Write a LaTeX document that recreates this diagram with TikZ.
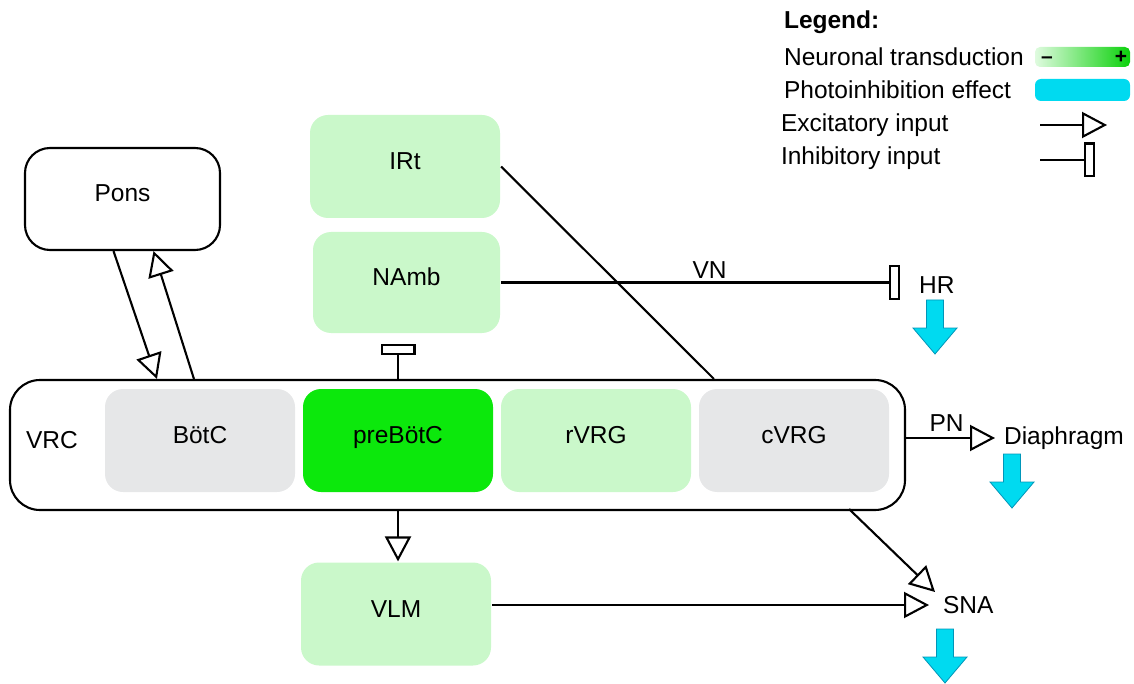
\documentclass[tikz,border=0pt]{standalone}
\usepackage{fontspec}
\setmainfont{Liberation Sans}
\usetikzlibrary{arrows.meta}
\definecolor{lightgreen}{RGB}{202,248,202}
\definecolor{brightgreen}{RGB}{12,232,12}
\definecolor{boxgrey}{RGB}{230,231,232}
\definecolor{photocyan}{RGB}{0,218,240}
\definecolor{photoedge}{RGB}{0,150,185}

\begin{document}
\begin{tikzpicture}[x=1pt, y=-1pt, line width=2.1pt,
    font=\fontsize{24.5}{29}\selectfont,
    box/.style={rounded corners=18pt, minimum width=190pt, minimum height=103pt, inner sep=0pt,
                text height=18pt, text depth=12pt},
    light/.style={box, fill=lightgreen},
    bright/.style={box, fill=brightgreen},
    grey/.style={box, fill=boxgrey},
    tag/.style={inner sep=0pt},
    excite/.style={-{Triangle[open, length=25pt, width=26pt]}},
    inhibit/.style={-{Rectangle[open, length=11pt, width=35pt]}},
    photo/.style={fill=photocyan, draw=photoedge, line width=0.8pt}
]
    \useasboundingbox (0,0) rectangle (1134,684);

    % Boxes outside the VRC
    \node[box, draw, fill=white, rounded corners=25pt, minimum width=195pt, minimum height=102pt] (pons) at (122.5,199) {Pons};
    \node[light] (irt) at (405,166.5) {IRt};
    \node[light, minimum width=187pt, minimum height=101pt] (namb) at (406.5,282.5) {NAmb};
    \node[light] (vlm) at (396,614) {VLM};

    % VRC and its groups
    \node[draw, rounded corners=30pt, minimum width=895pt, minimum height=130pt] (vrc) at (457.5,445) {};
    \node[tag] (vrclabel) at (52,440) {VRC};
    \foreach \x/\n/\t/\s in {200/botc/BötC/grey, 398/prebotc/preBötC/bright,
                             596/rvrg/rVRG/light, 794/cvrg/cVRG/grey} {
        \node[\s] (\n) at (\x,440.5) {\t};
    }

    % Targets
    \node[tag, anchor=west] (hr) at (918,285) {HR};
    \node[tag, anchor=west] (diaphragm) at (1003,438) {Diaphragm};
    \node[tag, anchor=west] (sna) at (942,605) {SNA};

    % Pons loop
    \draw[excite] ([xshift=-9pt]pons.south) -- ([xshift=148pt]vrc.north west);
    \draw[excite] ([xshift=185pt]vrc.north west) -- ([xshift=31pt]pons.south);
    % Edges from IRt and NAmb
    \draw (irt.east) -- ([xshift=705pt]vrc.north west);
    \draw[inhibit, shorten >=18pt] (namb.east) -- node[above=3pt, tag] (vn) {VN} (namb.east -| hr.west);
    \draw[inhibit, shorten >=10pt] (prebotc.north |- vrc.north) -- (prebotc.north |- namb.south);
    % Edges from the VRC
    \draw[excite] (prebotc.south |- vrc.south) -- (prebotc.south |- vlm.north);
    \draw[excite, shorten >=8pt] (diaphragm.west -| vrc.east) -- node[above=5pt, tag, xshift=-8pt] (pn) {PN} (diaphragm.west);
    \draw[excite] ([xshift=-57pt, yshift=2pt]vrc.south east) -- ([xshift=-7pt, yshift=13pt]sna.west);
    \draw[excite, shorten >=13pt] (vlm.east |- sna.west) -- (sna.west);

    % Photoinhibition arrows
    \foreach \cx/\ty in {935/300, 1012/454, 945/629} {
        \draw[photo] ({\cx-8.5},\ty) -- ({\cx+8.5},\ty) -- ({\cx+8.5},\ty+28) -- ({\cx+22},\ty+28)
            -- (\cx,\ty+54) -- ({\cx-22},\ty+28) -- ({\cx-8.5},\ty+28) -- cycle;
    }

    % Legend
    \node[tag, anchor=west, font=\fontsize{24.5}{29}\selectfont\bfseries] (legend) at (783,22) {Legend:};
    \node[tag, anchor=west] (neuro) at (783,57) {Neuronal transduction};
    \node[tag, anchor=west] (photoinh) at (783,90) {Photoinhibition effect};
    \node[tag, anchor=west] (exlabel) at (780,125) {Excitatory input};
    \node[tag, anchor=west] (inlabel) at (780,158) {Inhibitory input};
    \node[rounded corners=5pt, left color=lightgreen!60, right color=brightgreen!90!black,
          minimum width=95pt, minimum height=20pt, inner sep=0pt] (grad) at (1082.5,57) {};
    \node[tag, anchor=base, font=\fontsize{21}{23}\selectfont\bfseries] (minus) at (1047,64) {–};
    \node[tag, anchor=base, font=\fontsize{21}{23}\selectfont\bfseries] (plus) at (1121,64) {+};
    \node[rounded corners=6pt, fill=photocyan, minimum width=95pt, minimum height=22pt,
          inner sep=0pt] (cyanbar) at (1082.5,90) {};
    \coordinate (exstart) at (1040,125);
    \coordinate (exend) at (1107,125);
    \coordinate (instart) at (1040,160);
    \coordinate (inend) at (1095,160);
    \draw[excite] (exstart) -- (exend);
    \draw[inhibit] (instart) -- (inend);
\end{tikzpicture}
\end{document}
